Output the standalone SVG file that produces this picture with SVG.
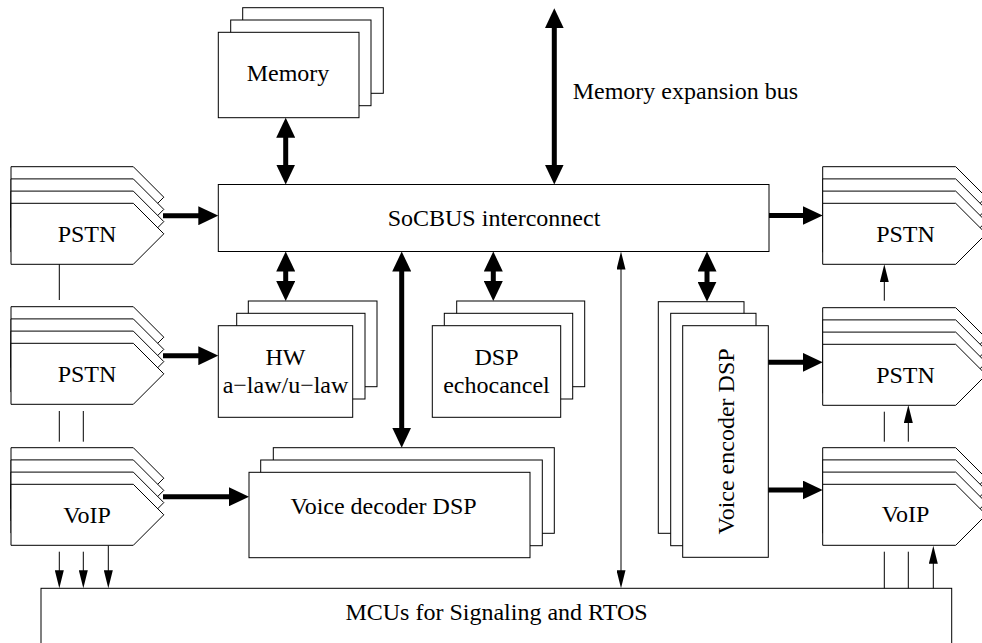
<svg xmlns="http://www.w3.org/2000/svg" xmlns:xlink="http://www.w3.org/1999/xlink" width="982" height="643" viewBox="0 0 982 643">
  <style>
    .box { fill: #fff; stroke: #000; stroke-width: 1; }
    .lbl { font-family: "Liberation Serif", "Times New Roman", serif; font-size: 24px; fill: #000; text-anchor: middle; }
    .lbl-start { font-family: "Liberation Serif", "Times New Roman", serif; font-size: 24px; fill: #000; text-anchor: start; }
    .bus { fill: none; stroke: #000; stroke-width: 5; }
    .wire { fill: none; stroke: #000; stroke-width: 1; }
    .bus-2 { marker-start: url(#head); marker-end: url(#head); }
    .bus-1 { marker-end: url(#head); }
    .wire-2 { marker-start: url(#tip); marker-end: url(#tip); }
    .wire-1 { marker-end: url(#tip); }
  </style>
  <defs>
    <!-- heavy arrowhead for data buses -->
    <marker id="head" viewBox="0 0 20 19" refX="8" refY="9.5" markerWidth="20" markerHeight="19" markerUnits="userSpaceOnUse" orient="auto-start-reverse">
      <path d="M0,0 L20,9.5 L0,19 z" fill="#000"/>
    </marker>
    <!-- light arrowhead for control wires -->
    <marker id="tip" viewBox="0 0 18 9" refX="6" refY="4.5" markerWidth="18" markerHeight="9" markerUnits="userSpaceOnUse" orient="auto-start-reverse">
      <path d="M0,0 L18,4.5 L0,9 z" fill="#000"/>
    </marker>
    <!-- stacked line-interface port, left column (origin = front layer top-left) -->
    <g id="port-left">
      <polygon class="box" points="0,-36.6 122.3,-36.6 152.8,-6.1 122.3,24.4 0,24.4"/>
      <polygon class="box" points="0,-24.4 122.3,-24.4 152.8,6.1 122.3,36.6 0,36.6"/>
      <polygon class="box" points="0,-12.2 122.3,-12.2 152.8,18.3 122.3,48.8 0,48.8"/>
      <polygon class="box" points="0,0 122.3,0 152.8,30.5 122.3,61 0,61"/>
    </g>
    <!-- stacked line-interface port, right column -->
    <g id="port-right">
      <polygon class="box" points="0,-36.6 133,-36.6 163.5,-6.1 133,24.4 0,24.4"/>
      <polygon class="box" points="0,-24.4 133,-24.4 163.5,6.1 133,36.6 0,36.6"/>
      <polygon class="box" points="0,-12.2 133,-12.2 163.5,18.3 133,48.8 0,48.8"/>
      <polygon class="box" points="0,0 133,0 163.5,30.5 133,61 0,61"/>
    </g>
  </defs>

  <rect width="982" height="643" fill="#fff"/>

  <!-- Memory bank -->
  <g id="memory">
    <rect class="box" x="242.7" y="7.7" width="140.6" height="85.6"/>
    <rect class="box" x="230.7" y="20" width="140.3" height="85.7"/>
    <rect class="box" x="218.3" y="32.3" width="140.7" height="85.4"/>
    <text class="lbl" x="288" y="81">Memory</text>
  </g>

  <!-- Central interconnect -->
  <g id="socbus">
    <rect class="box" x="218.3" y="184.5" width="550.7" height="67"/>
    <text class="lbl" x="494" y="226">SoCBUS interconnect</text>
  </g>

  <g id="mem-exp-label">
    <text class="lbl-start" x="572.7" y="99.3">Memory expansion bus</text>
  </g>

  <!-- Left line interfaces -->
  <g id="pstn-left-1">
    <use xlink:href="#port-left" href="#port-left" transform="translate(11,203.3)"/>
    <text class="lbl" x="87" y="241.7">PSTN</text>
  </g>
  <g id="pstn-left-2">
    <use xlink:href="#port-left" href="#port-left" transform="translate(11,343.3)"/>
    <text class="lbl" x="87" y="381.7">PSTN</text>
  </g>
  <g id="voip-left">
    <use xlink:href="#port-left" href="#port-left" transform="translate(11,484.3)"/>
    <text class="lbl" x="87" y="522.7">VoIP</text>
  </g>

  <!-- Right line interfaces -->
  <g id="pstn-right-1">
    <use xlink:href="#port-right" href="#port-right" transform="translate(822.7,203.3)"/>
    <text class="lbl" x="905.5" y="241.7">PSTN</text>
  </g>
  <g id="pstn-right-2">
    <use xlink:href="#port-right" href="#port-right" transform="translate(822.7,344.3)"/>
    <text class="lbl" x="905.5" y="382.7">PSTN</text>
  </g>
  <g id="voip-right">
    <use xlink:href="#port-right" href="#port-right" transform="translate(822.7,484.3)"/>
    <text class="lbl" x="905.5" y="521.7">VoIP</text>
  </g>

  <!-- Companding hardware -->
  <g id="hw-law">
    <rect class="box" x="248.3" y="301" width="128.7" height="85.7"/>
    <rect class="box" x="236.7" y="313.3" width="128.3" height="85.7"/>
    <rect class="box" x="218.3" y="325.7" width="134.4" height="91.6"/>
    <text class="lbl" x="285.5" y="365">HW</text>
    <text class="lbl" x="285.5" y="393.3">a−law/u−law</text>
  </g>

  <!-- Echo cancellation DSPs -->
  <g id="dsp-echo">
    <rect class="box" x="456.7" y="301" width="128" height="85.7"/>
    <rect class="box" x="444.3" y="313.3" width="128.4" height="85.7"/>
    <rect class="box" x="432.3" y="325.7" width="128.4" height="91.6"/>
    <text class="lbl" x="496.5" y="365">DSP</text>
    <text class="lbl" x="496.5" y="393.3">echocancel</text>
  </g>

  <!-- Voice decoder DSPs -->
  <g id="voice-decoder">
    <rect class="box" x="273.3" y="447.7" width="281" height="85.6"/>
    <rect class="box" x="260.7" y="460" width="281.6" height="85.7"/>
    <rect class="box" x="249" y="472.3" width="281" height="85.4"/>
    <text class="lbl" x="383.5" y="514">Voice decoder DSP</text>
  </g>

  <!-- Voice encoder DSPs -->
  <g id="voice-encoder">
    <rect class="box" x="658.3" y="301.7" width="85.7" height="231.6"/>
    <rect class="box" x="670.7" y="313.3" width="85.3" height="232.4"/>
    <rect class="box" x="682.7" y="325.7" width="85.6" height="231.6"/>
    <text class="lbl" transform="translate(734,441.5) rotate(-90)">Voice encoder DSP</text>
  </g>

  <!-- Control processors (box continues below the visible area) -->
  <g id="mcu">
    <rect class="box" x="41" y="588.3" width="910.7" height="80"/>
    <text class="lbl" x="496.5" y="620">MCUs for Signaling and RTOS</text>
  </g>

  <g id="connectors">
    <!-- buses to/from the interconnect -->
    <path class="bus bus-2" d="M285.7,129.7 V172.5"/>
    <path class="bus bus-2" d="M554.3,20.3 V172.5"/>
    <path class="bus bus-2" d="M285.7,263.5 V289"/>
    <path class="bus bus-2" d="M401.7,263.5 V435.7"/>
    <path class="bus bus-2" d="M493.3,263.5 V289"/>
    <path class="bus bus-2" d="M707,263.5 V289.7"/>
    <!-- one-way streams -->
    <path class="bus bus-1" d="M163,215.7 H206.3"/>
    <path class="bus bus-1" d="M163,355.7 H206.3"/>
    <path class="bus bus-1" d="M163,496.7 H237"/>
    <path class="bus bus-1" d="M769,215.5 H810.7"/>
    <path class="bus bus-1" d="M768.3,362.3 H810.7"/>
    <path class="bus bus-1" d="M768.3,490 H810.7"/>
    <!-- control link between MCUs and interconnect -->
    <path class="wire wire-2" d="M621,263.5 V576.3"/>
    <!-- right-hand signalling wires -->
    <path class="wire wire-1" d="M884.3,300.7 V276.3"/>
    <path class="wire" d="M884.3,411.7 V441.7"/>
    <path class="wire wire-1" d="M908.3,441.7 V417"/>
    <path class="wire" d="M884.3,551.7 V588.3"/>
    <path class="wire" d="M908.3,551.7 V588.3"/>
    <path class="wire wire-1" d="M933.3,588.3 V557.7"/>
    <!-- left-hand signalling wires -->
    <path class="wire" d="M59.3,264.3 V300"/>
    <path class="wire" d="M59.3,411 V441.7"/>
    <path class="wire" d="M83.3,411 V441.7"/>
    <path class="wire wire-1" d="M59.3,551.7 V576.3"/>
    <path class="wire wire-1" d="M83.3,551.7 V576.3"/>
    <path class="wire wire-1" d="M108.3,545.7 V576.3"/>
  </g>
</svg>
